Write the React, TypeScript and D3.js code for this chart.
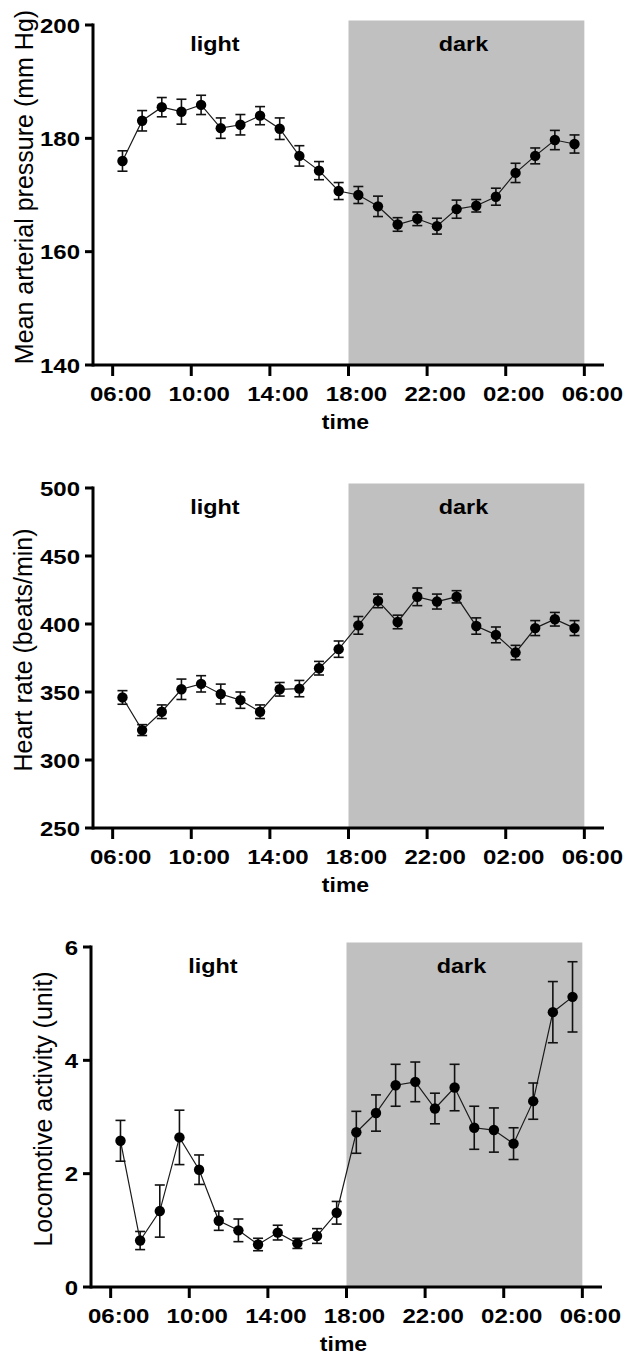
import React, { useEffect, useRef } from 'react';
import * as d3 from 'd3';

// hours after 06:00 (points sit in the middle of each hour)
const hours = d3.range(24).map(i => i + 0.5);
const tickHours = [0, 4, 8, 12, 16, 20, 24];
const tickLabels = ['06:00', '10:00', '14:00', '18:00', '22:00', '02:00', '06:00'];
const darkStart = 12;
const darkEnd = 24;
const periodLabels = [
  { text: 'light', at: 5.2 },
  { text: 'dark', at: 17.85 },
];

const mapMean = [176, 183.1, 185.5, 184.7, 185.9, 181.8, 182.4, 184, 181.7, 176.9, 174.3,
  170.7, 170, 168, 164.8, 165.8, 164.5, 167.5, 168.1, 169.7, 173.9, 176.9, 179.7, 179];
const mapErr = [1.8, 1.8, 1.7, 2.2, 1.7, 1.8, 1.8, 1.6, 1.9, 1.8, 1.6,
  1.5, 1.5, 1.8, 1.2, 1.2, 1.4, 1.6, 1.1, 1.5, 1.7, 1.4, 1.7, 1.6];

const hrMean = [346, 322, 335.5, 352, 356, 348.5, 344, 335.5, 352, 352.5, 367.5,
  381.5, 399, 417, 401.5, 420, 416.5, 420, 398.5, 392, 379, 397, 403.5, 397];
const hrErr = [5, 4, 5, 7.5, 6, 7.3, 6, 5, 5, 6, 5,
  6, 6.5, 5, 5, 6.5, 5.5, 4.5, 6, 5.8, 5.3, 5.5, 5, 5.5];

const locoMean = [2.58, 0.82, 1.34, 2.64, 2.07, 1.17, 1.0, 0.75, 0.96, 0.77, 0.9,
  1.31, 2.73, 3.07, 3.56, 3.62, 3.15, 3.52, 2.81, 2.77, 2.53, 3.28, 4.85, 5.12];
const locoErr = [0.36, 0.16, 0.46, 0.48, 0.26, 0.17, 0.2, 0.11, 0.13, 0.09, 0.13,
  0.2, 0.37, 0.32, 0.37, 0.35, 0.27, 0.41, 0.38, 0.39, 0.28, 0.32, 0.54, 0.62];

const panels = [
  { label: 'Mean arterial pressure (mm Hg)', mean: mapMean, err: mapErr, domain: [140, 200], ticks: [140, 160, 180, 200], top: 25, left: 93, labelX: 33 },
  { label: 'Heart rate (beats/min)', mean: hrMean, err: hrErr, domain: [250, 500], ticks: [250, 300, 350, 400, 450, 500], top: 488, left: 93, labelX: 32 },
  { label: 'Locomotive activity (unit)', mean: locoMean, err: locoErr, domain: [0, 6], ticks: [0, 2, 4, 6], top: 947, left: 91, labelX: 52 },
];

const W = 626;
const H = 1357;
const plotH = 340;
const font = '"Liberation Sans", Arial, sans-serif';

const App = () => {
  const ref = useRef<SVGSVGElement>(null);

  useEffect(() => {
    const svg = d3.select(ref.current);
    svg.selectAll('*').remove();
    svg.attr('width', W).attr('height', H).style('background', '#fff');

    panels.forEach(p => {
      const bottom = p.top + plotH;
      const x = d3.scaleLinear().domain([-1, 25]).range([p.left, p.left + 511]);
      const y = d3.scaleLinear().domain(p.domain).range([bottom, p.top]);
      const g = svg.append('g');

      // dark phase shading
      g.append('rect')
        .attr('x', x(darkStart))
        .attr('y', y(p.domain[1]) - 4.5)
        .attr('width', x(darkEnd) - x(darkStart))
        .attr('height', bottom - y(p.domain[1]) + 4.5)
        .attr('fill', '#c0c0c0');

      // light / dark labels
      periodLabels.forEach(l => {
        g.append('text')
          .attr('transform', `translate(${x(l.at)},${y(p.domain[1]) + 26}) scale(1.17,1)`)
          .attr('text-anchor', 'middle')
          .attr('font-family', font)
          .attr('font-weight', 'bold')
          .attr('font-size', '20px')
          .text(l.text);
      });

      // axes
      g.append('line')
        .attr('x1', p.left).attr('x2', p.left)
        .attr('y1', y(p.domain[1]) - 1.5).attr('y2', bottom + 1.5)
        .attr('stroke', '#000').attr('stroke-width', 3);
      g.append('line')
        .attr('x1', p.left).attr('x2', x(25))
        .attr('y1', bottom).attr('y2', bottom)
        .attr('stroke', '#000').attr('stroke-width', 3);

      p.ticks.forEach(t => {
        g.append('line')
          .attr('x1', p.left - 8).attr('x2', p.left)
          .attr('y1', y(t)).attr('y2', y(t))
          .attr('stroke', '#000').attr('stroke-width', 3);
        g.append('text')
          .attr('transform', `translate(${p.left - 13},${y(t) + 7.5}) scale(1.2,1)`)
          .attr('text-anchor', 'end')
          .attr('font-family', font)
          .attr('font-weight', 'bold')
          .attr('font-size', '20px')
          .text(t);
      });

      tickHours.forEach((h, i) => {
        g.append('line')
          .attr('x1', x(h)).attr('x2', x(h))
          .attr('y1', bottom).attr('y2', bottom + 11)
          .attr('stroke', '#000').attr('stroke-width', 3);
        g.append('text')
          .attr('transform', `translate(${x(h) + 8},${bottom + 36}) scale(1.2,1)`)
          .attr('text-anchor', 'middle')
          .attr('font-family', font)
          .attr('font-weight', 'bold')
          .attr('font-size', '20px')
          .text(tickLabels[i]);
      });

      g.append('text')
        .attr('transform', `translate(${x(12) - 3},${bottom + 64}) scale(1.15,1)`)
        .attr('text-anchor', 'middle')
        .attr('font-family', font)
        .attr('font-weight', 'bold')
        .attr('font-size', '20px')
        .text('time');

      // y label
      g.append('text')
        .attr('transform', `translate(${p.labelX},${(p.top + bottom) / 2 - 8}) rotate(-90)`)
        .attr('text-anchor', 'middle')
        .attr('font-family', font)
        .attr('font-size', '25px')
        .text(p.label);

      // series
      const pts = hours.map((h, i) => ({ h, v: p.mean[i], e: p.err[i] }));
      const line = d3.line<{ h: number; v: number }>()
        .x(d => x(d.h))
        .y(d => y(d.v));
      g.append('path')
        .datum(pts)
        .attr('fill', 'none')
        .attr('stroke', '#1a1a1a')
        .attr('stroke-width', 1.2)
        .attr('d', line);

      const eb = g.append('g').attr('stroke', '#111').attr('stroke-width', 1.6);
      pts.forEach(d => {
        eb.append('line')
          .attr('x1', x(d.h)).attr('x2', x(d.h))
          .attr('y1', y(d.v - d.e)).attr('y2', y(d.v + d.e));
        [d.v - d.e, d.v + d.e].forEach(v => {
          eb.append('line')
            .attr('x1', x(d.h) - 5).attr('x2', x(d.h) + 5)
            .attr('y1', y(v)).attr('y2', y(v));
        });
      });

      g.selectAll('circle.pt')
        .data(pts)
        .join('circle')
        .attr('class', 'pt')
        .attr('cx', d => x(d.h))
        .attr('cy', d => y(d.v))
        .attr('r', 5.2)
        .attr('fill', '#000');
    });
  }, []);

  return (
    <div style={{ position: 'absolute', left: 0, top: 0 }}>
      <svg ref={ref} style={{ display: 'block' }} />
    </div>
  );
};

export default App;
